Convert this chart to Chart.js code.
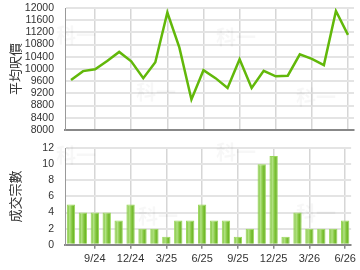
<!DOCTYPE html>
<html><head><meta charset="utf-8">
<script src="https://cdn.jsdelivr.net/npm/chart.js@4/dist/chart.umd.min.js"></script>
<style>
html,body{margin:0;padding:0;background:#fff;width:360px;height:270px;overflow:hidden}
#a{position:absolute;left:0;top:0;width:360px;height:137px}
#b{position:absolute;left:0;top:137px;width:360px;height:133px}
</style></head><body>
<div id="a"><canvas id="c1"></canvas></div>
<div id="b"><canvas id="c2"></canvas></div>
<script>
const months = ['7/24','8/24','9/24','10/24','11/24','12/24','1/25','2/25','3/25','4/25','5/25','6/25',
                '7/25','8/25','9/25','10/25','11/25','12/25','1/26','2/26','3/26','4/26','5/26','6/26'];
const tickLabels = ['9/24','12/24','3/25','6/25','9/25','12/25','3/26','6/26'];
const avgPrice = [9640,9930,9990,10260,10560,10250,9700,10220,11850,10700,9000,9960,
                  9700,9380,10320,9380,9940,9760,9780,10480,10330,10130,11900,11120];
const deals = [5,4,4,4,3,5,2,2,1,3,3,5,3,3,1,2,10,11,1,4,2,2,2,3];
const priceTitle = '平均呎價';
const dealsTitle = '成交宗數';
const watermark = '科一';

const tickFont = {family:'"Liberation Sans", Arial, sans-serif', size:10.5};
const titleFont = {family:'"Noto Sans CJK TC", sans-serif', size:13};
const isQ = i => tickLabels.includes(months[i]);

function wmPlugin(spots){
  return {id:'wm', beforeDatasetsDraw(ch){
    const c=ch.ctx; c.save();
    c.font='bold 20px "Noto Sans CJK TC", sans-serif';
    c.fillStyle='rgba(0,0,0,0.03)'; c.textAlign='center'; c.textBaseline='middle';
    spots.forEach(p=>c.fillText(watermark,p[0],p[1])); c.restore();
  }};
}

function xAxis(showLabels){
  return {
    type:'category', offset:true,
    grid:{offset:false, lineWidth:1.5,
      color:c=>isQ(c.index)?'#d6d6d6':'rgba(0,0,0,0)',
      tickColor:c=>isQ(c.index)?'#888':'rgba(0,0,0,0)',
      drawTicks:showLabels, tickLength:4},
    border:{color:'#888', width:2},
    ticks:{display:showLabels, autoSkip:false, maxRotation:0, minRotation:0, padding:4,
      font:Object.assign({}, tickFont, {size:11}), color:'#333',
      callback:(v,i)=>isQ(i)?months[i]:''}
  };
}

function yAxis(min,max,step,title){
  return {
    min:min, max:max,
    ticks:{stepSize:step, autoSkip:false, padding:0, font:tickFont, color:'#333',
      callback:v=>String(v)},
    grid:{color:'#e4e4e4', lineWidth:2, drawTicks:true, tickLength:11, tickColor:'rgba(0,0,0,0)'},
    border:{color:'#999', width:1},
    title:{display:true, text:title, font:titleFont, color:'#333', padding:{top:7,bottom:0}},
    afterFit:s=>{s.width=65;}
  };
}

new Chart(document.getElementById('c1'), {
  type:'line',
  data:{labels:months, datasets:[{data:avgPrice, borderColor:'#62b80a', borderWidth:2.5,
    pointRadius:0, tension:0, fill:false}]},
  options:{responsive:true, maintainAspectRatio:false, animation:false,
    layout:{padding:{left:0,right:6,top:8,bottom:7}},
    plugins:{legend:{display:false}, tooltip:{enabled:false}},
    scales:{x:xAxis(false), y:yAxis(8000,12000,400,priceTitle)}},
  plugins:[wmPlugin([[76,35],[156,92],[236,37],[316,97]])]
});

new Chart(document.getElementById('c2'), {
  type:'bar',
  data:{labels:months, datasets:[{data:deals, barPercentage:0.7, categoryPercentage:1,
    borderColor:'#9ad85a', borderWidth:1, borderSkipped:'bottom',
    backgroundColor:c=>{
      const ch=c.chart, x=ch.scales&&ch.scales.x;
      if(!x||!ch.chartArea) return '#7cc335';
      const cx=x.getPixelForValue(c.dataIndex); const w=x.width/months.length*0.7;
      if(!isFinite(cx)) return '#7cc335';
      const g=ch.ctx.createLinearGradient(cx-w/2,0,cx+w/2,0);
      g.addColorStop(0,'#6cb824'); g.addColorStop(0.35,'#b2e283');
      g.addColorStop(0.65,'#7fc438'); g.addColorStop(1,'#5ea81c');
      return g;
    }}]},
  options:{responsive:true, maintainAspectRatio:false, animation:false,
    layout:{padding:{left:0,right:6,top:11,bottom:0}},
    plugins:{legend:{display:false}, tooltip:{enabled:false}},
    scales:{x:xAxis(true), y:yAxis(0,12,2,dealsTitle)}},
  plugins:[wmPlugin([[76,18],[158,79],[236,15],[316,76]])]
});
</script>
</body></html>
